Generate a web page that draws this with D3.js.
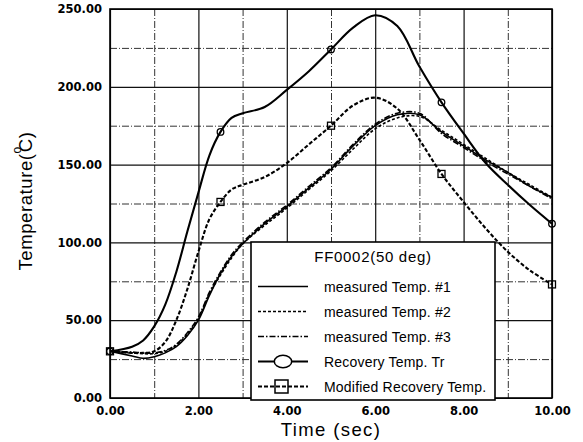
<!DOCTYPE html>
<html>
<head>
<meta charset="utf-8">
<script src="https://cdn.jsdelivr.net/npm/d3@7"></script>
<style>
  body { margin: 0; background: #fff; }
  text { font-family: "Liberation Sans", Arial, sans-serif; fill: #000; }
  .tick-label { font-family: "DejaVu Sans", sans-serif; font-weight: bold; font-size: 11.5px; }
</style>
</head>
<body>
<div id="chart"></div>
<script>
// time (sec)
const times = [0, 0.5, 0.75, 1, 1.25, 1.5, 1.75, 2, 2.25, 2.5, 2.75, 3, 3.5, 4, 4.5, 5, 5.5, 6, 6.5, 7, 7.5, 8, 8.5, 9, 9.5, 10];

// temperatures (deg C), one value per time
const measured1 = [30, 27, 25.5, 26.5, 29, 33, 40, 50, 66, 80, 91, 99, 112, 123, 135, 147, 162, 175, 182, 182, 171, 162, 153, 145, 136, 129];
const measured2 = [30, 29, 28.5, 28.5, 30, 34, 41, 51, 67, 79, 90, 99, 111, 122, 134, 146, 160, 173, 180, 181, 172, 163, 154, 145, 137, 129];
const measured3 = [30, 29.5, 29, 29, 30.5, 34.5, 42, 52, 68, 81, 92, 100, 113, 124, 136, 148, 163, 176, 183, 183, 170, 161, 152, 144, 136, 128];
const recoveryTr = [30, 33, 37, 46, 60, 81, 107, 132, 156, 171, 180, 183, 187, 198, 210, 224, 238, 246, 239, 213, 190, 170, 151, 137, 124, 112];
const modifiedTr = [30, 29, 29, 30, 36, 50, 70, 94, 115, 126, 134, 137, 142, 151, 163, 175, 188, 193, 186, 166, 144, 126, 109, 94, 82, 73];

const markerTimes = [0, 2.5, 5, 7.5, 10];
const xTicks = [0, 2, 4, 6, 8, 10];
const yTicks = [0, 50, 100, 150, 200, 250];
const xMinor = [1, 3, 5, 7, 9];
const yMinor = [25, 75, 125, 175, 225];

const legendTitle = "FF0002(50 deg)";
const legendLabels = ["measured Temp. #1", "measured Temp. #2", "measured Temp. #3",
                      "Recovery Temp. Tr", "Modified Recovery Temp."];

var margin = {top: 9, right: 31, bottom: 44, left: 110},
    width = 583 - margin.left - margin.right,
    height = 442 - margin.top - margin.bottom;

var svg = d3.select("#chart")
  .append("svg")
    .attr("width", 583)
    .attr("height", 442)
  .append("g")
    .attr("transform", "translate(" + margin.left + "," + margin.top + ")");

var x = d3.scaleLinear().domain([0, 10]).range([0, width]);
var y = d3.scaleLinear().domain([0, 250]).range([height, 0]);

// minor grid (dash-dot)
svg.append("g")
  .call(d3.axisBottom(x).tickValues(xMinor).tickSize(height).tickFormat(""))
  .call(g => g.select(".domain").remove())
  .selectAll("line").attr("stroke", "#333").attr("stroke-width", 1).attr("stroke-dasharray", "7,2,1,2");
svg.append("g")
  .call(d3.axisLeft(y).tickValues(yMinor).tickSize(-width).tickFormat(""))
  .call(g => g.select(".domain").remove())
  .selectAll("line").attr("stroke", "#333").attr("stroke-width", 1).attr("stroke-dasharray", "7,2,1,2");

// major grid (solid)
svg.append("g")
  .call(d3.axisBottom(x).tickValues(xTicks).tickSize(height).tickFormat(""))
  .call(g => g.select(".domain").remove())
  .selectAll("line").attr("stroke", "#111").attr("stroke-width", 1.2);
svg.append("g")
  .call(d3.axisLeft(y).tickValues(yTicks).tickSize(-width).tickFormat(""))
  .call(g => g.select(".domain").remove())
  .selectAll("line").attr("stroke", "#111").attr("stroke-width", 1.2);

// tick labels
svg.append("g")
  .attr("transform", "translate(0," + height + ")")
  .call(d3.axisBottom(x).tickValues(xTicks).tickSize(0).tickPadding(9).tickFormat(d3.format(".2f")))
  .call(g => g.select(".domain").remove())
  .selectAll("text").attr("class", "tick-label");
svg.append("g")
  .call(d3.axisLeft(y).tickValues(yTicks).tickSize(0).tickPadding(8).tickFormat(d3.format(".2f")))
  .call(g => g.select(".domain").remove())
  .selectAll("text").attr("class", "tick-label");

// series
var series = [
  {values: measured1, dash: null, w: 1.6},
  {values: measured2, dash: "3,2", w: 1.6},
  {values: measured3, dash: "6,2,1.5,2", w: 1.6},
  {values: recoveryTr, dash: null, w: 2.1},
  {values: modifiedTr, dash: "4,2", w: 2.1}
];

var line = d3.line()
  .x(function(d){ return x(d[0]); })
  .y(function(d){ return y(d[1]); })
  .curve(d3.curveCatmullRom.alpha(0.5));

svg.selectAll(".series")
  .data(series)
  .enter()
  .append("path")
    .attr("class", "series")
    .attr("fill", "none")
    .attr("stroke", "#000")
    .attr("stroke-width", function(d){ return d.w; })
    .attr("stroke-dasharray", function(d){ return d.dash; })
    .attr("d", function(d){ return line(times.map(function(t, i){ return [t, d.values[i]]; })); });

// markers
svg.selectAll(".mk-circle")
  .data(markerTimes)
  .enter()
  .append("circle")
    .attr("cx", function(t){ return x(t); })
    .attr("cy", function(t){ return y(recoveryTr[times.indexOf(t)]); })
    .attr("r", 3.3)
    .attr("fill", "none")
    .attr("stroke", "#000")
    .attr("stroke-width", 1.3);

svg.selectAll(".mk-square")
  .data(markerTimes)
  .enter()
  .append("rect")
    .attr("x", function(t){ return x(t) - 3.5; })
    .attr("y", function(t){ return y(modifiedTr[times.indexOf(t)]) - 3.5; })
    .attr("width", 7)
    .attr("height", 7)
    .attr("fill", "none")
    .attr("stroke", "#000")
    .attr("stroke-width", 1.3);

// plot frame
svg.append("rect")
  .attr("width", width).attr("height", height)
  .attr("fill", "none").attr("stroke", "#000").attr("stroke-width", 1.6);

// axis titles
svg.append("text")
  .text("Time (sec)")
  .attr("x", width / 2)
  .attr("y", height + 38)
  .attr("text-anchor", "middle")
  .style("font-size", "18.5px")
  .style("letter-spacing", "1.4px");

var yTitle = svg.append("text")
  .attr("transform", "translate(" + (32 - margin.left) + "," + (201 - margin.top) + ") rotate(-90)")
  .attr("text-anchor", "middle")
  .style("font-size", "18.5px")
  .style("letter-spacing", "0.6px");
yTitle.append("tspan").text("Temperature(");
yTitle.append("tspan").text("o").attr("dy", -11).attr("dx", 0).style("font-size", "12px");
yTitle.append("tspan").text("C)").attr("dy", 11).attr("dx", -6);

// legend
var lg = svg.append("g").attr("transform", "translate(" + (251 - margin.left) + "," + (242 - margin.top) + ")");
lg.append("rect").attr("width", 244).attr("height", 158)
  .attr("fill", "#fff").attr("stroke", "#000").attr("stroke-width", 1.6);
lg.append("text").text(legendTitle)
  .attr("x", 122).attr("y", 20).attr("text-anchor", "middle")
  .style("font-size", "15px").style("letter-spacing", "0.7px");

legendLabels.forEach(function(label, i){
  var ry = 44.5 + i * 25;
  var s = series[i];
  lg.append("line")
    .attr("x1", 7).attr("x2", 57).attr("y1", ry).attr("y2", ry)
    .attr("stroke", "#000").attr("stroke-width", i < 3 ? 1.3 : 1.8)
    .attr("stroke-dasharray", s.dash);
  lg.append("text").text(label)
    .attr("x", 73).attr("y", ry + 5)
    .style("font-size", "14px").style("letter-spacing", "0.2px");
});
lg.append("ellipse").attr("cx", 32).attr("cy", 44.5 + 3 * 25).attr("rx", 8.7).attr("ry", 6.3)
  .attr("fill", "#fff").attr("stroke", "#000").attr("stroke-width", 1.5);
lg.append("rect").attr("x", 24).attr("y", 44.5 + 4 * 25 - 6.5).attr("width", 13).attr("height", 13)
  .attr("fill", "none").attr("stroke", "#000").attr("stroke-width", 1.5);
</script>
</body>
</html>
